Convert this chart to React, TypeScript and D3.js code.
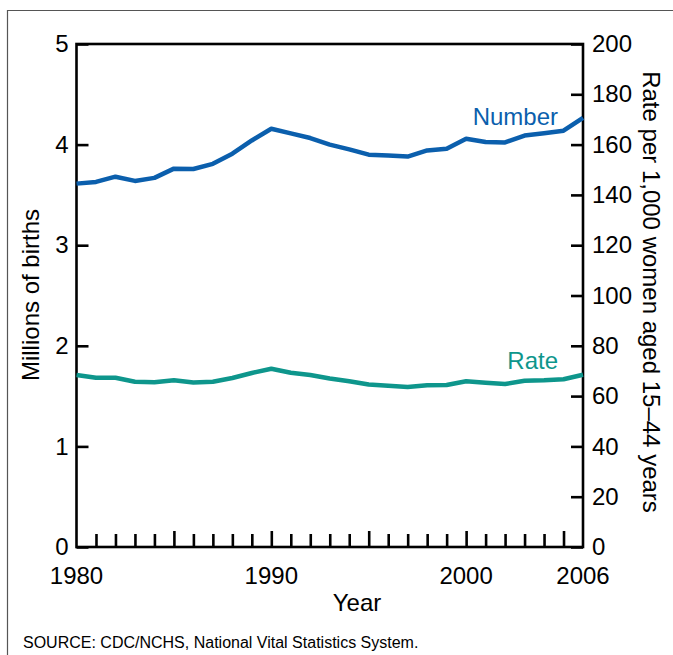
import { useEffect, useRef } from "react"
import * as d3 from "d3"

// Births and birth rate, United States, 1980–2006
const years = [
  1980, 1981, 1982, 1983, 1984, 1985, 1986, 1987, 1988, 1989, 1990, 1991, 1992, 1993,
  1994, 1995, 1996, 1997, 1998, 1999, 2000, 2001, 2002, 2003, 2004, 2005, 2006,
]
// millions of births
const numberValues = [
  3.612, 3.629, 3.681, 3.639, 3.669, 3.761, 3.757, 3.809, 3.91, 4.041, 4.158, 4.111, 4.065, 4.0,
  3.953, 3.9, 3.891, 3.881, 3.942, 3.959, 4.059, 4.026, 4.022, 4.09, 4.112, 4.138, 4.266,
]
// rate per 1,000 women aged 15–44
const rateValues = [
  68.4, 67.3, 67.3, 65.7, 65.5, 66.3, 65.4, 65.7, 67.2, 69.2, 70.9, 69.3, 68.4, 67.0,
  65.9, 64.6, 64.1, 63.6, 64.3, 64.4, 65.9, 65.3, 64.8, 66.1, 66.3, 66.7, 68.5,
]
const leftTicks = [0, 1, 2, 3, 4, 5]
const rightTicks = [0, 20, 40, 60, 80, 100, 120, 140, 160, 180, 200]
const yearLabels = [1980, 1990, 2000, 2006]

const FONT = "'Liberation Sans', Arial, Helvetica, sans-serif"
const BLUE = "#0b5fad"
const TEAL = "#0e968c"
const FS = 24

export default function App() {
  const svgRef = useRef<SVGSVGElement>(null)

  useEffect(() => {
    if (!svgRef.current) return
    const width = 673
    const height = 655
    const left = 76.5
    const right = 583
    const top = 44
    const bottom = 547

    const root = d3.select(svgRef.current)
    root.selectAll("*").remove()
    root.attr("width", width).attr("height", height)

    root.append("rect").attr("width", width).attr("height", height).attr("fill", "white")

    // outer frame (open to the right and bottom edges)
    root
      .append("path")
      .attr("d", `M7.5,${height + 2}V10.5H${width + 2}`)
      .attr("fill", "none")
      .attr("stroke", "#555")
      .attr("stroke-width", 1.2)

    const x = d3.scaleLinear().domain([1980, 2006]).range([left, right])
    const yL = d3.scaleLinear().domain([0, 5]).range([bottom, top])
    const yR = d3.scaleLinear().domain([0, 200]).range([bottom, top])

    const g = root.append("g")

    // plot frame
    g.append("rect")
      .attr("x", left)
      .attr("y", top)
      .attr("width", right - left)
      .attr("height", bottom - top)
      .attr("fill", "none")
      .attr("stroke", "#000")
      .attr("stroke-width", 2.6)

    const styleAxis = (sel: d3.Selection<SVGGElement, unknown, null, undefined>) => {
      sel.select(".domain").remove()
      sel.selectAll(".tick line").attr("stroke", "#000").attr("stroke-width", 2.6)
      sel.selectAll(".tick text").attr("font-family", FONT).attr("font-size", FS).attr("fill", "#000")
    }

    g.append("g")
      .attr("transform", `translate(${left},0)`)
      .call(d3.axisLeft(yL).tickValues(leftTicks).tickSize(-12).tickPadding(8).tickFormat(d3.format("d")))
      .call(styleAxis)

    g.append("g")
      .attr("transform", `translate(${right},0)`)
      .call(d3.axisRight(yR).tickValues(rightTicks).tickSize(-12).tickPadding(9).tickFormat(d3.format("d")))
      .call(styleAxis)

    // year ticks: minor every year, longer every five years
    const inner = years.filter((yr) => yr > 1980 && yr < 2006)
    g.append("g")
      .attr("transform", `translate(0,${bottom})`)
      .call(
        d3
          .axisBottom(x)
          .tickValues(inner)
          .tickSize(0)
          .tickFormat(() => "")
      )
      .call(styleAxis)
      .selectAll(".tick line")
      .attr("y2", (d) => ((d as number) % 5 === 0 ? -16 : -13))

    g.append("g")
      .selectAll("text")
      .data(yearLabels)
      .join("text")
      .attr("x", (d) => x(d))
      .attr("y", 584)
      .attr("text-anchor", "middle")
      .attr("font-family", FONT)
      .attr("font-size", FS)
      .text((d) => d)

    const numberLine = d3
      .line<number>()
      .x((_, i) => x(years[i]))
      .y((d) => yL(d))
    const rateLine = d3
      .line<number>()
      .x((_, i) => x(years[i]))
      .y((d) => yR(d))

    g.append("path")
      .attr("d", numberLine(numberValues))
      .attr("fill", "none")
      .attr("stroke", BLUE)
      .attr("stroke-width", 4.5)
      .attr("stroke-linejoin", "round")

    g.append("path")
      .attr("d", rateLine(rateValues))
      .attr("fill", "none")
      .attr("stroke", TEAL)
      .attr("stroke-width", 4.5)
      .attr("stroke-linejoin", "round")

    // series labels
    g.append("text")
      .attr("x", 558)
      .attr("y", 125)
      .attr("text-anchor", "end")
      .attr("font-family", FONT)
      .attr("font-size", FS)
      .attr("fill", BLUE)
      .text("Number")

    g.append("text")
      .attr("x", 558)
      .attr("y", 369)
      .attr("text-anchor", "end")
      .attr("font-family", FONT)
      .attr("font-size", FS)
      .attr("fill", TEAL)
      .text("Rate")

    // axis titles
    g.append("text")
      .attr("transform", `translate(39,295) rotate(-90)`)
      .attr("text-anchor", "middle")
      .attr("font-family", FONT)
      .attr("font-size", FS)
      .text("Millions of births")

    g.append("text")
      .attr("transform", `translate(643,292) rotate(90)`)
      .attr("text-anchor", "middle")
      .attr("font-family", FONT)
      .attr("font-size", FS)
      .text("Rate per 1,000 women aged 15–44 years")

    g.append("text")
      .attr("x", 357)
      .attr("y", 611)
      .attr("text-anchor", "middle")
      .attr("font-family", FONT)
      .attr("font-size", FS)
      .text("Year")

    g.append("text")
      .attr("x", 23)
      .attr("y", 648)
      .attr("font-family", FONT)
      .attr("font-size", 16)
      .text("SOURCE: CDC/NCHS, National Vital Statistics System.")
  }, [])

  return (
    <div style={{ position: "absolute", left: 0, top: 0 }}>
      <svg ref={svgRef} style={{ display: "block" }}></svg>
    </div>
  )
}
